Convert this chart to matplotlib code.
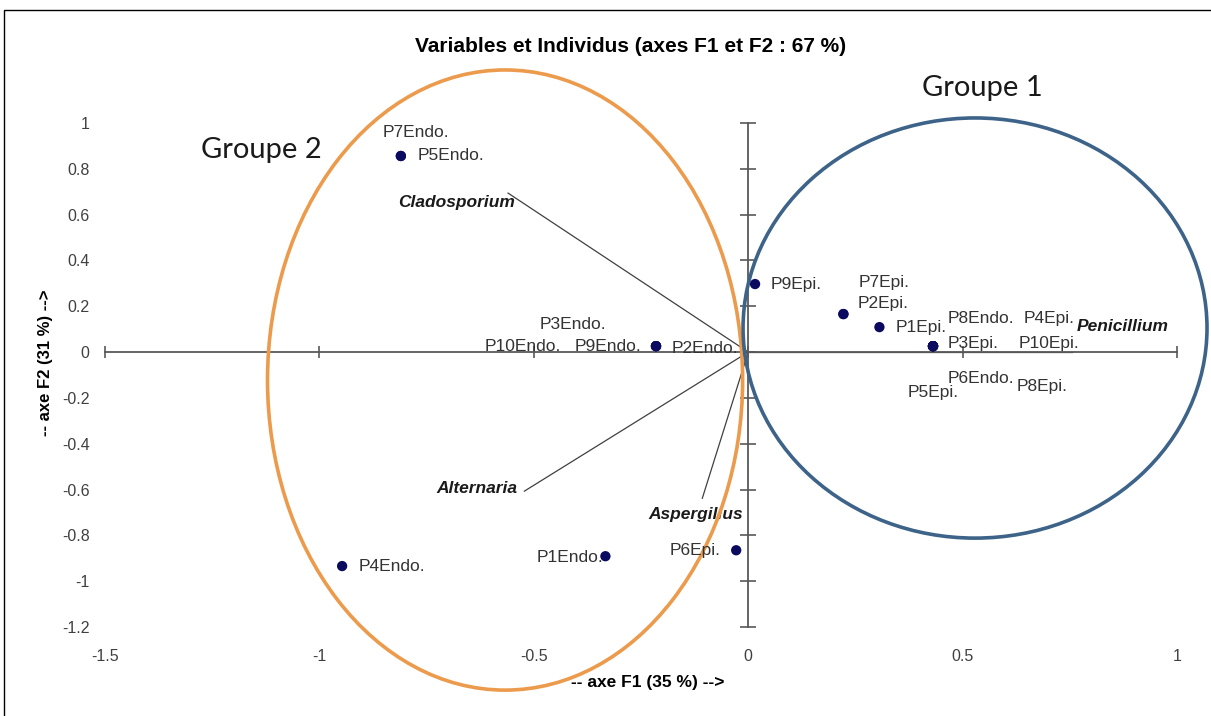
import matplotlib.pyplot as plt
from matplotlib.patches import Ellipse, Rectangle

# Observations (individus): coordinates on F1 / F2
obs_names = [
    "P7Endo.", "P5Endo.",
    "P3Endo.", "P10Endo.", "P9Endo.", "P2Endo.",
    "P9Epi.",
    "P7Epi.", "P2Epi.",
    "P1Epi.",
    "P3Epi.", "P8Endo.", "P4Epi.", "P10Epi.", "P6Endo.", "P8Epi.", "P5Epi.",
    "P4Endo.", "P1Endo.", "P6Epi.",
]
obs_f1 = [
    -0.81, -0.81,
    -0.215, -0.215, -0.215, -0.215,
    0.016,
    0.222, 0.222,
    0.306,
    0.431, 0.431, 0.431, 0.431, 0.431, 0.431, 0.431,
    -0.947, -0.333, -0.028,
]
obs_f2 = [
    0.856, 0.856,
    0.026, 0.026, 0.026, 0.026,
    0.297,
    0.166, 0.166,
    0.109,
    0.026, 0.026, 0.026, 0.026, 0.026, 0.026, 0.026,
    -0.934, -0.891, -0.865,
]

# Variables: loadings on F1 / F2
var_names = ["Cladosporium", "Penicillium", "Alternaria", "Aspergillus"]
var_f1 = [-0.56, 0.755, -0.522, -0.107]
var_f2 = [0.694, 0.0, -0.607, -0.638]

x_ticks = [-1.5, -1, -0.5, 0, 0.5, 1]
y_ticks = [-1.2, -1, -0.8, -0.6, -0.4, -0.2, 0, 0.2, 0.4, 0.6, 0.8, 1]

# label placement in pixels relative to the point (dx, dy, ha)
obs_offsets = [
    (-18, 23, "left"), (17, 0, "left"),
    (-116, 22, "left"), (-171, 0, "left"), (-81, 0, "left"), (16, -2, "left"),
    (16, 0, "left"),
    (15, 32, "left"), (14, 11, "left"),
    (16, 0, "left"),
    (15, 3, "left"), (15, 28, "left"), (91, 28, "left"), (86, 3, "left"),
    (15, -32, "left"), (84, -40, "left"), (-25, -46, "left"),
    (16, 0, "left"), (-2, -1, "right"), (-16, 0, "right"),
]
var_offsets = [(7, -9, "right"), (5, 26, "left"), (-7, 3, "right"), (-7, -16, "center")]

W, H = 1211, 716
fig = plt.figure(figsize=(W / 100, H / 100), dpi=100)
plt.rcParams["font.family"] = ["Liberation Sans", "DejaVu Sans"]

ax = fig.add_axes([105 / W, 1 - 627 / H, (1177 - 105) / W, (627 - 123) / H])
ax.set_xlim(-1.5, 1)
ax.set_ylim(-1.2, 1)

axis_color = "#595959"
for side in ["top", "right"]:
    ax.spines[side].set_visible(False)
ax.spines["left"].set_position(("data", 0))
ax.spines["bottom"].set_position(("data", 0))
ax.spines["left"].set_bounds(-1.2, 1)
ax.spines["bottom"].set_bounds(-1.5, 1)
for side in ["left", "bottom"]:
    ax.spines[side].set_color(axis_color)
    ax.spines[side].set_linewidth(1.3)
ax.set_xticks(x_ticks)
ax.set_yticks(y_ticks)
ax.tick_params(axis="x", direction="inout", length=9, width=1.2, color=axis_color,
               labelbottom=False)
ax.tick_params(axis="y", direction="inout", length=11, width=1.2, color=axis_color,
               labelleft=False)

# tick labels sit on the outer edges of the plot area
sec_x = ax.secondary_xaxis("bottom")
sec_x.set_xticks(x_ticks, [f"{v:g}" for v in x_ticks])
sec_x.spines["bottom"].set_visible(False)
sec_x.tick_params(length=0, pad=16, labelsize=11.5, labelcolor="#404040")
sec_y = ax.secondary_yaxis("left")
sec_y.set_yticks(y_ticks, [f"{v:g}" for v in y_ticks])
sec_y.spines["left"].set_visible(False)
sec_y.tick_params(length=0, pad=11, labelsize=11.5, labelcolor="#404040")

# variable vectors
for name, vx, vy, (dx, dy, ha) in zip(var_names, var_f1, var_f2, var_offsets):
    ax.plot([0, vx], [0, vy], color="#404040", lw=0.9, zorder=2)
    ax.annotate(name, (vx, vy), xytext=(dx, dy), textcoords="offset pixels",
                ha=ha, va="center", fontsize=12.5, fontweight="bold",
                fontstyle="italic", color="#1a1a1a")

# observations
ax.scatter(obs_f1, obs_f2, s=55, color="#0a0a60", zorder=4, edgecolors="none")
for name, px, py, (dx, dy, ha) in zip(obs_names, obs_f1, obs_f2, obs_offsets):
    ax.annotate(name, (px, py), xytext=(dx, dy), textcoords="offset pixels",
                ha=ha, va="center", fontsize=12.5, color="#333333", zorder=5)

# group outlines
ax.add_patch(Ellipse((-0.567, -0.122), 1.108, 2.707, fill=False,
                     ec="#ec9a4c", lw=2.6, clip_on=False, zorder=3))
ax.add_patch(Ellipse((0.529, 0.105), 1.082, 1.834, fill=False,
                     ec="#3d6389", lw=2.6, clip_on=False, zorder=3))

fig.text(982 / W, 1 - 88 / H, "Groupe 1", fontsize=21, family=["Lato", "DejaVu Sans"],
         ha="center", va="center", color="#1a1a1a")
fig.text(261 / W, 1 - 150 / H, "Groupe 2", fontsize=21, family=["Lato", "DejaVu Sans"],
         ha="center", va="center", color="#1a1a1a")

fig.text(631 / W, 1 - 47 / H, "Variables et Individus (axes F1 et F2 : 67 %)",
         ha="center", va="center", fontsize=15, fontweight="bold")
fig.text(648 / W, 1 - 683 / H, "-- axe F1 (35 %) -->", ha="center", va="center",
         fontsize=12.5, fontweight="bold")
fig.text(46 / W, 1 - 363 / H, "-- axe F2 (31 %) -->", ha="center", va="center",
         fontsize=12, fontweight="bold", rotation=90)

# outer frame
fig.add_artist(Rectangle((4 / W, -0.1), 2, 1.1 - 10 / H, transform=fig.transFigure,
                         fill=False, ec="black", lw=1))

fig.savefig("out.png", dpi=100)
